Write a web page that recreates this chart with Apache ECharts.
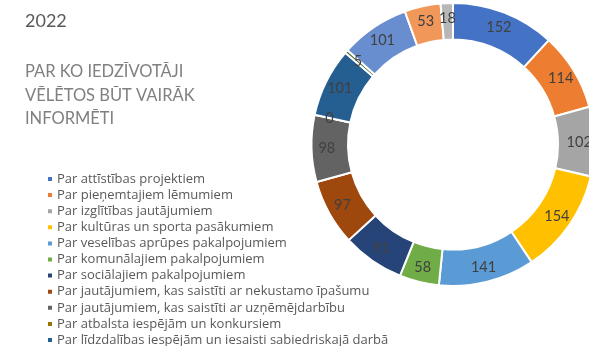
<!DOCTYPE html>
<html>
<head>
<meta charset="utf-8">
<script src="https://cdn.jsdelivr.net/npm/echarts@6/dist/echarts.min.js"></script>
<style>
  html, body { margin: 0; padding: 0; background: #fff; }
  #chart { width: 589px; height: 346px; }
</style>
</head>
<body>
<div id="chart"></div>
<script>
// Topics residents want more information about (2022 survey)
const categories = [
  'Par attīstības projektiem',
  'Par pieņemtajiem lēmumiem',
  'Par izglītības jautājumiem',
  'Par kultūras un sporta pasākumiem',
  'Par veselības aprūpes pakalpojumiem',
  'Par komunālajiem pakalpojumiem',
  'Par sociālajiem pakalpojumiem',
  'Par jautājumiem, kas saistīti ar nekustamo īpašumu',
  'Par jautājumiem, kas saistīti ar uzņēmējdarbību',
  'Par atbalsta iespējām un konkursiem',
  'Par līdzdalības iespējām un iesaisti sabiedriskajā darbā',
  'Par vides jautājumiem',
  'Par pašvaldības budžetu',
  'Par drošību',
  'Cits'
];
const values = [152, 114, 102, 154, 141, 58, 91, 97, 98, 0, 101, 5, 101, 53, 18];
const colors = [
  '#4472C4', '#ED7D31', '#A5A5A5', '#FFC000', '#5B9BD5',
  '#70AD47', '#264478', '#9E480E', '#636363', '#997300',
  '#255E91', '#43682B', '#698ED0', '#F1975A', '#B7B7B7'
];

const FONT = 'Lato, "Liberation Sans", sans-serif';
const LEGEND_FONT = '"Open Sans", Lato, sans-serif';

const chart = echarts.init(document.getElementById('chart'), null, { renderer: 'canvas' });

chart.setOption({
  animation: false,
  color: colors,
  title: [
    {
      text: '2022',
      left: 20,
      top: 7,
      textStyle: { fontFamily: FONT, fontSize: 18, fontWeight: 'normal', color: '#595959' }
    },
    {
      text: 'PAR KO IEDZĪVOTĀJI\nVĒLĒTOS BŪT VAIRĀK\nINFORMĒTI',
      left: 20,
      top: 55,
      textStyle: { fontFamily: FONT, fontSize: 16.5, fontWeight: 'normal', color: '#808080', lineHeight: 23.5 }
    }
  ],
  legend: {
    orient: 'vertical',
    left: 46,
    top: 171,
    height: 400,
    padding: 0,
    data: categories,
    icon: 'rect',
    itemWidth: 6,
    itemHeight: 6,
    itemGap: 0.1,
    selectedMode: false,
    textStyle: { fontFamily: LEGEND_FONT, fontSize: 13, color: '#595959', lineHeight: 16, padding: [0, 0, 0, -1] }
  },
  series: [{
    type: 'pie',
    center: [453, 144.5],
    radius: [105, 141.5],
    startAngle: 90,
    clockwise: true,
    avoidLabelOverlap: false,
    itemStyle: { borderColor: '#ffffff', borderWidth: 2 },
    label: {
      show: true,
      position: 'inside',
      formatter: '{c}',
      fontFamily: FONT,
      fontSize: 14.5,
      color: '#404040'
    },
    labelLine: { show: false },
    emphasis: { disabled: true },
    data: categories.map((name, i) => ({ name, value: values[i] }))
  }]
});
</script>
</body>
</html>
